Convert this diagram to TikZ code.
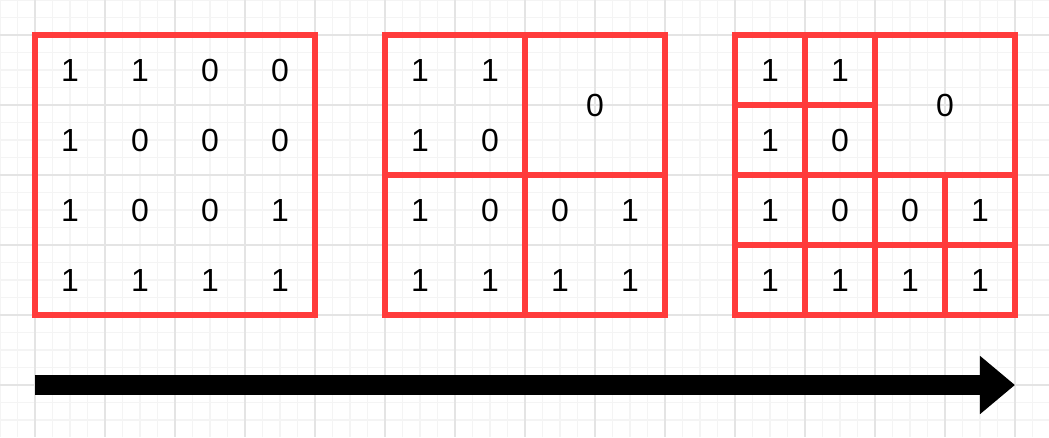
\documentclass[tikz,border=0pt]{standalone}
\usepackage{fontspec}
\setmainfont{Liberation Sans}
\usepackage{tikz}
\usetikzlibrary{
  arrows.meta
}
\definecolor{qtRed}{HTML}{FF3B3B}
\definecolor{qtGridMinor}{HTML}{F4F4F4}
\definecolor{qtGridMajor}{HTML}{E4E4E4}

\begin{document}
\begin{tikzpicture}[x=1cm, y=-1cm,
  box/.style={draw=qtRed, line width=2.05pt},
  val/.style={font=\fontsize{13}{15}\selectfont, text=black}]
  \useasboundingbox[fill=white] (0,0) rectangle (14.986,6.243);
  % background grid
  \foreach \x in {0,0.25,...,14.9}
    \draw[qtGridMinor, line width=0.5pt] (\x,0) -- (\x,6.243);
  \foreach \y in {0,0.25,...,6.2}
    \draw[qtGridMinor, line width=0.5pt] (0,\y) -- (14.986,\y);
  \foreach \x in {0.5,1.5,...,14.5}
    \draw[qtGridMajor, line width=0.5pt] (\x,0) -- (\x,6.243);
  \foreach \y in {0.5,1.5,...,5.5}
    \draw[qtGridMajor, line width=0.5pt] (0,\y) -- (14.986,\y);

  % full matrix
  \foreach \r/\vals in {1/{1,1,0,0}, 2/{1,0,0,0}, 3/{1,0,0,1}, 4/{1,1,1,1}}{
    \foreach \v [count=\c] in \vals
      \node[val] (a-\r-\c) at (\c,\r) {\v};
  }
  \draw[box] (0.5,0.5) rectangle (4.5,4.5);

  % split steps
  \foreach \sq/\ox in {b/5, c/10}{
    \foreach \r/\c/\v in {1/1/1, 1/2/1, 2/1/1, 2/2/0,
                         3/1/1, 3/2/0, 3/3/0, 3/4/1,
                         4/1/1, 4/2/1, 4/3/1, 4/4/1}
      \node[val] (\sq-\r-\c) at (\ox+\c,\r) {\v};
    \node[val] (\sq-q) at (\ox+3.5,1.5) {0};
    \draw[box] (\ox+0.5,0.5) rectangle (\ox+4.5,4.5);
    \draw[box] (\ox+2.5,0.5) -- (\ox+2.5,4.5);
    \draw[box] (\ox+0.5,2.5) -- (\ox+4.5,2.5);
  }
  \draw[box] (11.5,0.5) -- (11.5,4.5);
  \draw[box] (10.5,1.5) -- (12.5,1.5);
  \draw[box] (13.5,2.5) -- (13.5,4.5);
  \draw[box] (10.5,3.5) -- (14.5,3.5);

  % arrow
  \coordinate (from) at (0.5,5.5);
  \coordinate (to) at (14.5,5.5);
  \draw[line width=0.28cm, -{Triangle[length=0.5cm, width=0.8cm]}] (from) -- (to);
\end{tikzpicture}
\end{document}
